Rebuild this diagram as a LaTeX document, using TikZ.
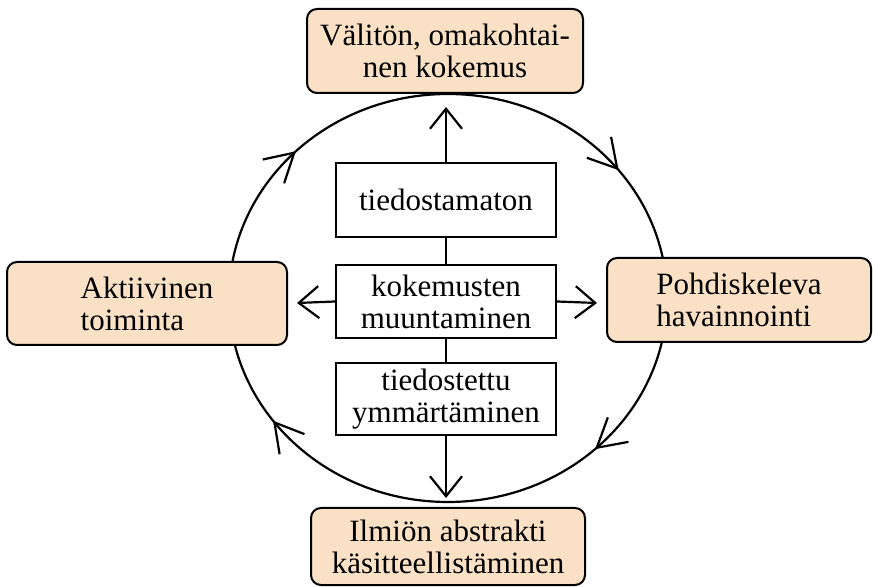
\documentclass[tikz,border=0pt]{standalone}
\usepackage{fontspec}
\setmainfont{Liberation Serif}
\usetikzlibrary{arrows.meta}
\usetikzlibrary{decorations.markings}
\usetikzlibrary{positioning}
\definecolor{stagefill}{RGB}{250,224,196}

\tikzset{
  stage/.style={draw, line width=1pt, rounded corners=5pt, fill=stagefill,
    inner sep=0pt, align=center, font=\fontsize{15.5}{16}\selectfont},
  layer/.style={draw, line width=1pt, fill=white, inner sep=0pt,
    minimum width=110pt, align=center, font=\fontsize{15.5}{16}\selectfont},
  outarrow/.style={line width=1.1pt, -{Straight Barb[length=10pt,width=16pt,line width=1.1pt]}},
  cycleline/.style={line width=1.1pt, postaction={decorate},
    decoration={markings,
      mark=at position 0.13 with {\arrow{Straight Barb[length=14pt,width=16pt,line width=1.1pt]}},
      mark=at position 0.40 with {\arrow{Straight Barb[length=14pt,width=16pt,line width=1.1pt]}},
      mark=at position 0.625 with {\arrow{Straight Barb[length=14pt,width=16pt,line width=1.1pt]}},
      mark=at position 0.895 with {\arrow{Straight Barb[length=14pt,width=16pt,line width=1.1pt]}}}}
}

\begin{document}
\begin{tikzpicture}[x=0.5pt, y=-0.5pt]
        \useasboundingbox (0,0) rectangle (873,587);
        \draw[cycleline] (448,298) ellipse [x radius=219, y radius=204];

        \node[stage, minimum width=138pt, minimum height=42pt] (kokemus) at (445,51)
          {Välitön, omakohtai-\\nen kokemus};
        \node[stage, minimum width=140pt, minimum height=41.5pt, align=left] (toiminta) at (147,303.5)
          {Aktiivinen\\toiminta};
        \node[stage, minimum width=132pt, minimum height=42pt, align=left] (havainnointi) at (739,300)
          {Pohdiskeleva\\havainnointi};
        \node[stage, minimum width=137pt, minimum height=38.5pt] (abstrakti) at (448,546.5)
          {Ilmiön abstrakti\\käsitteellistäminen};

        \node[layer, minimum height=37pt] (tiedostamaton) at (446,200) {tiedostamaton};
        \node[layer, minimum height=36.5pt] (muuntaminen) at (446,301.5) {kokemusten\\muuntaminen};
        \node[layer, minimum height=36pt] (tiedostettu) at (446,399) {tiedostettu\\ymmärtäminen};

        \coordinate (uptip) at (446,107);
        \coordinate (lefttip) at (297,303);
        \coordinate (righttip) at (597,303);
        \coordinate (downtip) at (446,498);

        \draw[line width=1.1pt] (tiedostamaton) -- (muuntaminen);
        \draw[line width=1.1pt] (muuntaminen) -- (tiedostettu);
        \draw[outarrow] (tiedostamaton.north) -- (uptip);
        \draw[outarrow] (muuntaminen.west) -- (lefttip);
        \draw[outarrow] (muuntaminen.east) -- (righttip);
        \draw[outarrow] (tiedostettu.south) -- (downtip);
\end{tikzpicture}
\end{document}
